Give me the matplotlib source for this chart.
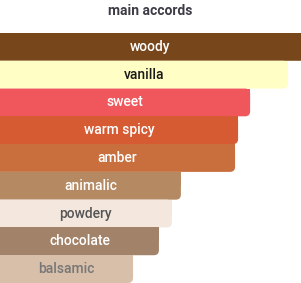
import matplotlib
matplotlib.use("Agg")
import matplotlib.pyplot as plt
from matplotlib.patches import FancyBboxPatch

plt.rcParams['font.family'] = ['Roboto', 'DejaVu Sans']

# accords, top to bottom, with relative strength (percent of widest bar)
accords = ["woody", "vanilla", "sweet", "warm spicy", "amber",
           "animalic", "powdery", "chocolate", "balsamic"]
strength = [100, 95.7, 83.1, 79.1, 78.1, 60.1, 57.1, 52.8, 44.2]
bar_colors = ["#77461a", "#fffec4", "#ef575d", "#d65a32", "#c96f3e",
              "#b58a63", "#f4e8de", "#a2836a", "#d7bfa9"]
text_colors = ["#ffffff", "#1a1a1a", "#ffffff", "#ffffff", "#ffffff",
               "#ffffff", "#555555", "#ffffff", "#777777"]

fig = plt.figure(figsize=(3.01, 2.83), dpi=100)
ax = fig.add_axes([0, 0, 1, 250 / 283])
ax.set_xlim(0, 100)
ax.set_ylim(len(accords) - 0.5, -0.5)
ax.axis("off")

r = 1.7  # corner radius in x units
aspect = (5 / 27.8) / (5 * 100 / 301)
for i, (name, val) in enumerate(zip(accords, strength)):
    # rounded box, left corners pushed off the axes (and the right ones too
    # for a full-width bar)
    extra = 5 if val >= 100 else 0
    box = FancyBboxPatch((-5, i - 0.5), val + 5 + extra, 1.0,
                         boxstyle="round,pad=0,rounding_size=%.2f" % r,
                         mutation_aspect=aspect,
                         facecolor=bar_colors[i], edgecolor="none", zorder=2)
    ax.add_patch(box)
    # square off the top-right corner
    ax.barh(i - 0.25, val, height=0.5, left=0, color=bar_colors[i],
            edgecolor="none", zorder=2)
    ax.text(val / 2, i, name, ha="center", va="center", fontsize=10,
            fontweight="medium", color=text_colors[i], zorder=3)

fig.text(0.5, 1 - 11 / 283, "main accords", ha="center", va="center",
         fontsize=10, fontweight="bold", color="#3c3c46")

fig.savefig("out.png", dpi=100)
